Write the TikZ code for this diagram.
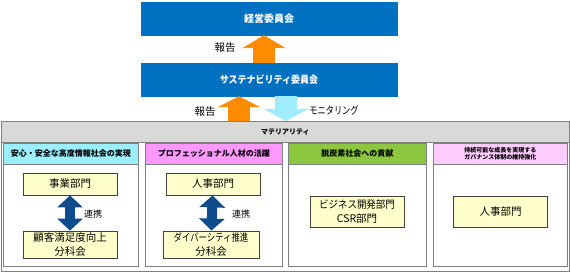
\documentclass[tikz,border=0pt]{standalone}
\usepackage{fontspec}
\setmainfont{Noto Sans CJK JP}
\usepackage{tikz}
\usetikzlibrary{arrows.meta,positioning}

\definecolor{boardblue}{HTML}{0070C0}
\definecolor{reportorange}{HTML}{FF8C00}
\definecolor{monitorblue}{HTML}{A0ECFF}
\definecolor{linkblue}{HTML}{0E4C8E}
\definecolor{headcyan}{HTML}{9BEFFF}
\definecolor{headpink}{HTML}{FF99FF}
\definecolor{headgreen}{HTML}{8DC63F}
\definecolor{headlight}{HTML}{FFCCFF}
\definecolor{barsgray}{HTML}{D9D9D9}
\definecolor{deptyellow}{HTML}{FFFFCC}

\begin{document}
\begin{tikzpicture}[
    x=1pt, y=-1pt,
    font=\fontsize{10}{11}\selectfont,
    committee/.style={draw=boardblue, fill=boardblue, text=white, font=\fontsize{10}{11}\selectfont\bfseries, minimum width=256pt, minimum height=33pt},
    frame/.style={draw=gray, line width=0.8pt, anchor=north west, inner sep=0pt},
    panel/.style={draw=gray, line width=0.8pt, fill=white, anchor=north west, minimum height=123pt, inner sep=0pt},
    header/.style={draw=gray, line width=0.8pt, anchor=north west, minimum height=21pt, inner sep=0pt, align=center, font=\fontsize{8}{9}\selectfont\bfseries},
    dept/.style={draw=black!75, line width=0.8pt, fill=deptyellow, minimum width=94pt, inner sep=0.5pt, align=center, font=\fontsize{10.5}{13.5}\selectfont},
    report/.style={-{Triangle[length=13pt,width=43pt]}, line width=22pt, draw=reportorange},
    monitor/.style={-{Triangle[length=12pt,width=44pt]}, line width=22pt, draw=monitorblue},
    link/.style={{Triangle[length=12pt,width=25pt]}-{Triangle[length=12pt,width=25pt]}, line width=10pt, draw=linkblue},
    note/.style={font=\fontsize{10.5}{12}\selectfont},
    small/.style={font=\fontsize{9}{10}\selectfont}
]
\useasboundingbox (0,0) rectangle (570,272);

% committees
\node[committee] (board) at (269,18.5) {経営委員会};
\node[committee] (sust) at (269,79.5) {\scalebox{0.9}[1]{サステナビリティ委員会}};
\draw[report] ([xshift=-5pt]sust.north) -- ([xshift=-5pt]board.south);
\node[note] (rep1) at (225,48) {報告};

% materiality frame
\node[frame, minimum width=568pt, minimum height=150pt] (outer) at (1,121) {};
\node[frame, fill=barsgray, minimum width=568pt, minimum height=21pt, font=\fontsize{7}{8}\selectfont\bfseries] (mat) at (1,121) {マテリアリティ};

\draw[report, -{Triangle[length=11pt,width=42pt]}] ([xshift=-30pt]sust.south |- mat.north) -- ([xshift=-30pt]sust.south);
\draw[monitor] ([xshift=17pt]sust.south) -- ([xshift=17pt]sust.south |- mat.north);
\node[note] (rep2) at (205,112) {報告};
\node[note] (mon) at (334,110) {\scalebox{0.78}[1]{モニタリング}};

% panels
\node[panel, minimum width=135pt] (p1) at (3,143) {};
\node[panel, minimum width=137pt] (p2) at (145,143) {};
\node[panel, minimum width=138pt] (p3) at (288,143) {};
\node[panel, minimum width=134pt] (p4) at (433,143) {};
\node[header, fill=headcyan, minimum width=135pt] (h1) at (p1.north west) {安心・安全な高度情報社会の実現};
\node[header, fill=headpink, minimum width=137pt] (h2) at (p2.north west) {プロフェッショナル人材の活躍};
\node[header, fill=headgreen, minimum width=138pt] (h3) at (p3.north west) {脱炭素社会への貢献};
\node[header, fill=headlight, minimum width=134pt, font=\fontsize{6}{7}\selectfont\bfseries] (h4) at (p4.north west) {持続可能な成長を実現する\\ガバナンス体制の維持強化};

% departments
\node[dept, minimum height=22pt] (biz) at (70,184) {事業部門};
\node[dept, minimum height=27pt] (cs) at (70,244.5) {顧客満足度向上\\分科会};
\draw[link] (biz) -- (cs);
\node[small] (link1) at (93,214) {連携};

\node[dept, minimum height=22pt] (hr) at (213,184) {人事部門};
\node[dept, minimum height=27pt, minimum width=96pt] (div) at (211,244.5) {\scalebox{0.8}[1]{ダイバーシティ推進}\\分科会};
\draw[link] (hr) -- (div);
\node[small] (link2) at (241,214) {連携};

\node[dept, minimum height=31pt] (bizdev) at (357,211.5) {\scalebox{0.9}[1]{ビジネス開発部門}\\CSR部門};
\node[dept, minimum height=31pt] (hr2) at (500.5,211.5) {人事部門};
\end{tikzpicture}
\end{document}
